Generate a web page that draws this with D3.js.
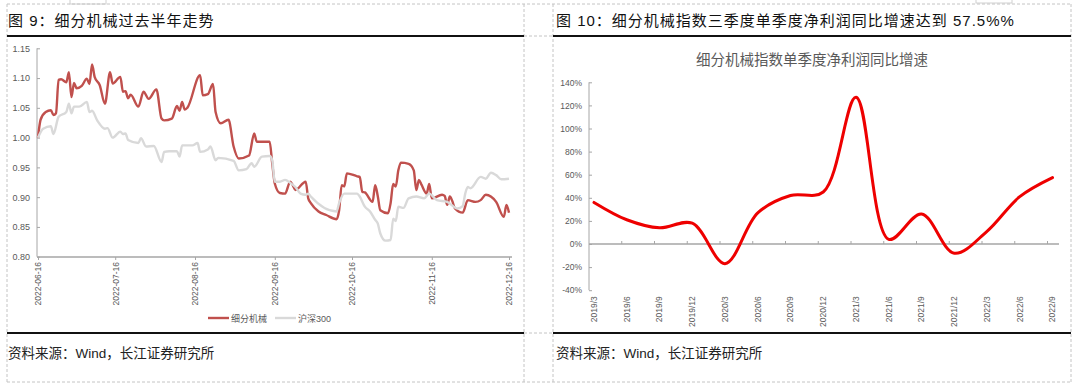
<!DOCTYPE html>
<html>
<head>
<meta charset="utf-8">
<script src="https://cdn.jsdelivr.net/npm/d3@7"></script>
<style>
  body { margin: 0; background: #fff; }
  svg { display: block; }
  text { font-family: "Liberation Sans", "Noto Sans CJK SC", sans-serif; }
  .cjk { font-family: "Liberation Sans", "Noto Sans CJK SC", sans-serif; }
</style>
</head>
<body>
<svg id="chart" width="1080" height="388"></svg>
<script>
// --- Data: fig 9, six-month trend (normalised to 1.00 on 2022-06-16) ---
const machDates = ["2022-06-16","2022-06-17","2022-06-19","2022-06-21","2022-06-22","2022-06-23","2022-06-24","2022-06-25","2022-06-27","2022-06-28","2022-06-29","2022-06-30","2022-07-01","2022-07-03","2022-07-05","2022-07-06","2022-07-07","2022-07-08","2022-07-10","2022-07-12","2022-07-14","2022-07-15","2022-07-18","2022-07-19","2022-07-20","2022-07-21","2022-07-22","2022-07-25","2022-07-27","2022-07-29","2022-08-01","2022-08-03","2022-08-04","2022-08-07","2022-08-09","2022-08-10","2022-08-11","2022-08-12","2022-08-13","2022-08-18","2022-08-19","2022-08-21","2022-08-23","2022-08-24","2022-08-26","2022-08-29","2022-08-31","2022-09-02","2022-09-06","2022-09-08","2022-09-09","2022-09-14","2022-09-15","2022-09-16","2022-09-18","2022-09-20","2022-09-22","2022-09-23","2022-09-24","2022-09-28","2022-09-29","2022-09-30","2022-10-03","2022-10-06","2022-10-10","2022-10-11","2022-10-12","2022-10-13","2022-10-14","2022-10-18","2022-10-19","2022-10-20","2022-10-21","2022-10-24","2022-10-25","2022-10-26","2022-10-27","2022-10-30","2022-10-31","2022-11-01","2022-11-02","2022-11-03","2022-11-04","2022-11-07","2022-11-09","2022-11-10","2022-11-11","2022-11-12","2022-11-14","2022-11-15","2022-11-16","2022-11-20","2022-11-21","2022-11-22","2022-11-23","2022-11-24","2022-11-25","2022-11-28","2022-11-30","2022-12-03","2022-12-05","2022-12-07","2022-12-11","2022-12-14","2022-12-15","2022-12-16"];
const machValues = [1.000,1.030,1.043,1.046,1.038,1.041,1.097,1.098,1.093,1.110,1.068,1.092,1.083,1.087,1.099,1.090,1.123,1.102,1.088,1.057,1.110,1.091,1.102,1.077,1.078,1.066,1.072,1.052,1.077,1.065,1.081,1.032,1.029,1.032,1.053,1.045,1.060,1.047,1.050,1.105,1.071,1.073,1.090,1.043,1.024,1.030,0.985,0.965,0.970,1.007,0.993,0.993,0.957,0.923,0.907,0.906,0.926,0.920,0.912,0.926,0.898,0.890,0.876,0.870,0.863,0.878,0.920,0.918,0.940,0.935,0.934,0.909,0.908,0.892,0.920,0.902,0.878,0.873,0.890,0.922,0.918,0.945,0.958,0.956,0.945,0.912,0.929,0.921,0.906,0.922,0.898,0.904,0.902,0.887,0.901,0.893,0.881,0.874,0.895,0.892,0.895,0.904,0.892,0.867,0.887,0.874];

const hsDates = ["2022-06-16","2022-06-18","2022-06-21","2022-06-22","2022-06-24","2022-06-27","2022-06-28","2022-06-29","2022-06-30","2022-07-02","2022-07-05","2022-07-06","2022-07-07","2022-07-09","2022-07-12","2022-07-13","2022-07-15","2022-07-18","2022-07-19","2022-07-20","2022-07-21","2022-07-25","2022-07-26","2022-07-28","2022-07-31","2022-08-03","2022-08-04","2022-08-06","2022-08-09","2022-08-10","2022-08-11","2022-08-15","2022-08-17","2022-08-18","2022-08-21","2022-08-22","2022-08-24","2022-08-25","2022-08-31","2022-09-02","2022-09-05","2022-09-07","2022-09-08","2022-09-11","2022-09-14","2022-09-15","2022-09-16","2022-09-18","2022-09-20","2022-09-22","2022-09-24","2022-09-26","2022-09-28","2022-09-29","2022-09-30","2022-10-10","2022-10-11","2022-10-13","2022-10-18","2022-10-19","2022-10-21","2022-10-23","2022-10-25","2022-10-26","2022-10-27","2022-10-29","2022-10-31","2022-11-01","2022-11-02","2022-11-03","2022-11-05","2022-11-07","2022-11-10","2022-11-13","2022-11-15","2022-11-18","2022-11-22","2022-11-26","2022-11-28","2022-11-29","2022-11-30","2022-12-01","2022-12-05","2022-12-07","2022-12-09","2022-12-11","2022-12-13","2022-12-16"];
const hsValues = [1.000,1.015,1.019,1.006,1.035,1.043,1.057,1.041,1.052,1.052,1.060,1.043,1.045,1.029,1.015,1.016,1.000,1.010,1.006,1.007,0.996,0.991,0.999,0.985,0.986,0.959,0.976,0.977,0.977,0.968,0.987,0.987,0.991,0.976,0.980,0.985,0.962,0.966,0.961,0.945,0.947,0.957,0.951,0.968,0.969,0.962,0.926,0.926,0.929,0.924,0.917,0.906,0.904,0.906,0.901,0.876,0.890,0.906,0.906,0.901,0.884,0.876,0.862,0.856,0.839,0.827,0.828,0.864,0.860,0.884,0.882,0.898,0.901,0.898,0.906,0.895,0.892,0.881,0.885,0.906,0.917,0.915,0.934,0.931,0.941,0.937,0.930,0.931];

const trendTicks = ["2022-06-16","2022-07-16","2022-08-16","2022-09-16","2022-10-16","2022-11-16","2022-12-16"];
const trendYTicks = [0.80, 0.85, 0.90, 0.95, 1.00, 1.05, 1.10, 1.15];
const trendLegend = ["细分机械", "沪深300"];

// --- Data: fig 10, quarterly net profit YoY growth (%) ---
const quarters = ["2019/3","2019/6","2019/9","2019/12","2020/3","2020/6","2020/9","2020/12","2021/3","2021/6","2021/9","2021/12","2022/3","2022/6","2022/9"];
const profitGrowth = [36, 21, 14, 18, -17, 27, 42, 45, 127, 4, 26, -8, 11, 41, 57.5];
const growthTicks = [-40, -20, 0, 20, 40, 60, 80, 100, 120, 140];

const svg = d3.select("#chart");
const parse = d3.timeParse("%Y-%m-%d");
const axisGray = "#a6a6a6";
const labelGray = "#595959";

// --- Frames: dashed panel borders, title / source rules ---
const frame = svg.append("g").attr("fill", "none");
frame.append("rect").attr("x", 70).attr("y", -2).attr("width", 36).attr("height", 6).attr("stroke", "#d0d0d0");
frame.append("rect").attr("x", 976).attr("y", -2).attr("width", 36).attr("height", 5).attr("stroke", "#d0d0d0");

const dashed = [
    [7, 4, 1071, 4], [7, 382, 1071, 382],
    [7, 4, 7, 382], [524, 4, 524, 382], [553, 4, 553, 382], [1071, 4, 1071, 382],
    [524, 36, 553, 36], [524, 333, 553, 333]
];
frame.selectAll("line.dash").data(dashed).join("line")
    .attr("x1", d => d[0]).attr("y1", d => d[1]).attr("x2", d => d[2]).attr("y2", d => d[3])
    .attr("stroke", "#c4c4c4").attr("stroke-dasharray", "3,2");

const rules = [[7, 36, 524], [553, 36, 1071], [7, 333, 524], [553, 333, 1071]];
frame.selectAll("line.rule").data(rules).join("line")
    .attr("x1", d => d[0]).attr("x2", d => d[2]).attr("y1", d => d[1]).attr("y2", d => d[1])
    .attr("stroke", "#111").attr("stroke-width", 2);

// Panel titles
svg.append("text").attr("x", 8).attr("y", 26)
    .attr("font-size", 15).attr("letter-spacing", 1).attr("fill", "#111")
    .text("图 9：细分机械过去半年走势");
svg.append("text").attr("x", 556).attr("y", 26)
    .attr("font-size", 15).attr("letter-spacing", 1).attr("fill", "#111")
    .text("图 10：细分机械指数三季度单季度净利润同比增速达到 57.5%%");

// Source notes
[8, 556].forEach(x => {
    svg.append("text").attr("x", x).attr("y", 358)
        .attr("font-size", 13.5).attr("fill", "#222")
        .text("资料来源：Wind，长江证券研究所");
});

// --- Fig 9: line chart ---
function drawTrend() {
    const x = d3.scaleTime()
        .domain([parse(trendTicks[0]), parse(trendTicks[trendTicks.length - 1])])
        .range([38, 509]);
    const y = d3.scaleLinear().domain([0.80, 1.15]).range([256.7, 48.3]);

    const g = svg.append("g");

    // y axis
    const yAxis = g.append("g").attr("transform", "translate(37,0)")
        .call(d3.axisLeft(y).tickValues(trendYTicks).tickFormat(d3.format(".2f"))
            .tickSize(-3).tickPadding(7));
    yAxis.select(".domain").attr("stroke", axisGray).attr("d", `M-0,${y(1.15)}H0V${y(0.80)}`);
    yAxis.selectAll(".tick line").attr("stroke", axisGray);
    yAxis.selectAll(".tick text").attr("fill", labelGray).attr("font-size", 9);

    // x axis
    const xAxis = g.append("g").attr("transform", "translate(0,257)")
        .call(d3.axisBottom(x).tickValues(trendTicks.map(parse))
            .tickFormat(d3.timeFormat("%Y-%m-%d")).tickSize(3));
    xAxis.select(".domain").attr("stroke", axisGray).attr("stroke-width", 1.5).attr("d", "M37,0H512");
    xAxis.selectAll(".tick line").attr("stroke", axisGray);
    xAxis.selectAll(".tick text")
        .attr("fill", labelGray).attr("font-size", 8.5)
        .attr("transform", "rotate(-90)")
        .attr("text-anchor", "end")
        .attr("x", -5).attr("y", 0).attr("dy", "0.35em");
    g.selectAll(".domain").attr("fill", "none");
    g.selectAll(".tick text").attr("font-family", "Liberation Sans, sans-serif");

    const line = d3.line().x(d => x(d[0])).y(d => y(d[1])).curve(d3.curveMonotoneX);
    const machSeries = machDates.map((d, i) => [parse(d), machValues[i]]);
    const hsSeries = hsDates.map((d, i) => [parse(d), hsValues[i]]);

    g.append("path").datum(machSeries).attr("d", line)
        .attr("fill", "none").attr("stroke", "#c0504d").attr("stroke-width", 2.4)
        .attr("stroke-linejoin", "round");
    g.append("path").datum(hsSeries).attr("d", line)
        .attr("fill", "none").attr("stroke", "#d9d9d9").attr("stroke-width", 2.4)
        .attr("stroke-linejoin", "round");

    // legend
    const legendColors = ["#c0504d", "#d9d9d9"];
    const legendX = [208, 275];
    const leg = g.append("g");
    trendLegend.forEach((name, i) => {
        leg.append("line").attr("x1", legendX[i]).attr("x2", legendX[i] + 21)
            .attr("y1", 318).attr("y2", 318)
            .attr("stroke", legendColors[i]).attr("stroke-width", 2.4);
        leg.append("text").attr("x", legendX[i] + 23).attr("y", 321.5)
            .attr("font-size", 9).attr("fill", labelGray).text(name);
    });
}

// --- Fig 10: smoothed growth line ---
function drawGrowth() {
    const x = d3.scalePoint().domain(quarters).range([594, 1052.5]);
    const y = d3.scaleLinear().domain([-40, 140]).range([290.2, 82.3]);
    const step = x.step();

    const g = svg.append("g");

    g.append("text").attr("x", 812).attr("y", 65)
        .attr("text-anchor", "middle").attr("font-size", 14.5).attr("fill", labelGray)
        .text("细分机械指数单季度净利润同比增速");

    // y axis
    const yAxis = g.append("g").attr("transform", "translate(589,0)")
        .call(d3.axisLeft(y).tickValues(growthTicks).tickFormat(d => d + "%")
            .tickSize(-3).tickPadding(7));
    yAxis.select(".domain").attr("stroke", axisGray).attr("fill", "none")
        .attr("d", `M0,${y(140)}V${y(-40)}`);
    yAxis.selectAll(".tick line").attr("stroke", axisGray);
    yAxis.selectAll(".tick text").attr("fill", labelGray).attr("font-size", 8.5)
        .attr("font-family", "Liberation Sans, sans-serif");

    // category axis along the 0% line
    const y0 = y(0);
    g.append("line").attr("x1", 589).attr("x2", 1059).attr("y1", y0).attr("y2", y0)
        .attr("stroke", axisGray).attr("stroke-width", 1.5);
    g.selectAll("line.qtick").data(quarters.slice(1)).join("line")
        .attr("x1", d => x(d) - 5).attr("x2", d => x(d) - 5)
        .attr("y1", y0).attr("y2", y0 - 3)
        .attr("stroke", axisGray);

    g.selectAll("text.qlabel").data(quarters).join("text")
        .attr("transform", d => `translate(${x(d)},${y(-40) + 6}) rotate(-90)`)
        .attr("text-anchor", "end").attr("dy", "0.35em")
        .attr("font-size", 8.5).attr("fill", labelGray)
        .attr("font-family", "Liberation Sans, sans-serif")
        .text(d => d);

    const line = d3.line().x((d, i) => x(quarters[i])).y(d => y(d))
        .curve(d3.curveCatmullRom.alpha(0.5));
    g.append("path").datum(profitGrowth).attr("d", line)
        .attr("fill", "none").attr("stroke", "#ee0000").attr("stroke-width", 3)
        .attr("stroke-linecap", "round");
}

drawTrend();
drawGrowth();
</script>
</body>
</html>
